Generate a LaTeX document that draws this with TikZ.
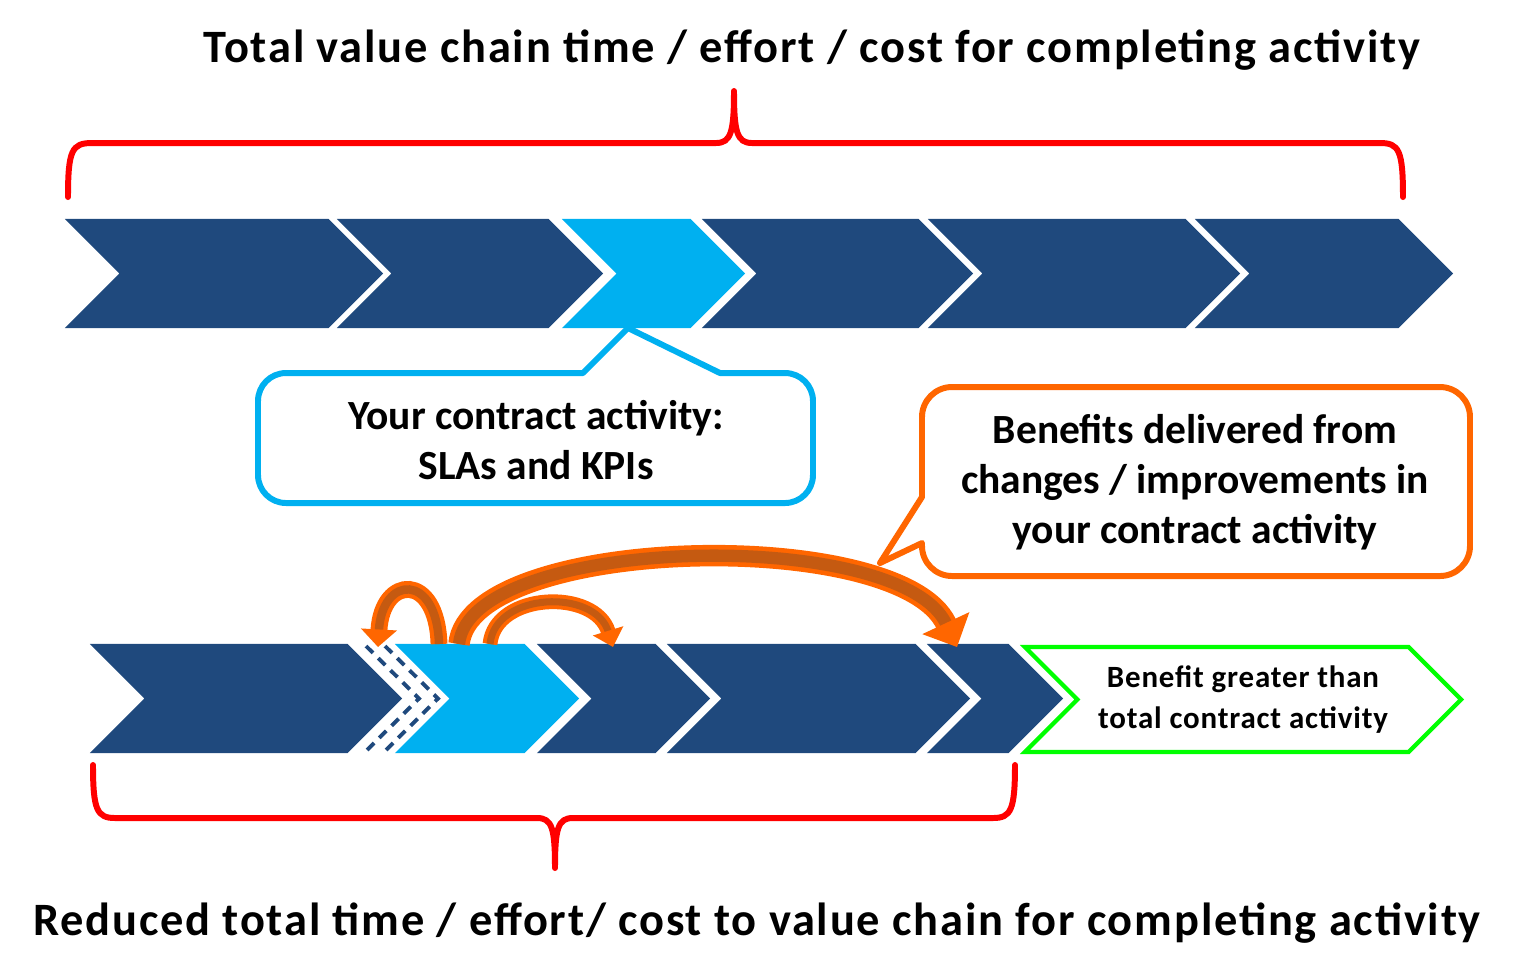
\documentclass[tikz,border=0pt]{standalone}
\usepackage{fontspec}
\setmainfont{Carlito}
\usetikzlibrary{shapes.symbols, arrows.meta}
\definecolor{chainnavy}{RGB}{31, 73, 125}
\definecolor{chainblue}{RGB}{0, 176, 240}
\definecolor{gainorange}{RGB}{255, 102, 0}
\definecolor{gaindark}{RGB}{197, 90, 17}
\definecolor{gaingreen}{RGB}{0, 255, 0}
\tikzset{
  stage/.style={
    signal,
    signal to=east,
    signal from=west,
    signal pointer angle=90,
    fill=chainnavy,
    minimum height=1.09cm,
    inner sep=0pt,
    outer sep=0pt
  },
  yourstage/.style={
    stage,
    fill=chainblue
  },
  gainstage/.style={
    stage,
    fill=white,
    draw=gaingreen,
    line width=1.2pt,
    minimum height=1.05cm,
    align=center,
    font=\fontsize{8.8}{11.4}\selectfont\bfseries\addfontfeatures{LetterSpace=2.7}
  },
  redbrace/.style={
    draw=red,
    line width=1.7pt,
    line cap=round,
    line join=round
  },
  bubble/.style={
    line width=1.7pt,
    fill=white,
    line join=round
  },
  bubbletext/.style={
    align=center,
    font=\fontsize{11.8}{14.2}\selectfont\bfseries
  },
  heading/.style={
    font=\fontsize{13.2}{15}\selectfont\bfseries\addfontfeatures{LetterSpace=3.9}
  },
  jump/.style={
    draw=gainorange,
    double=gaindark,
    line cap=butt
  },
  ghost/.style={
    draw=chainnavy,
    line width=1.1pt,
    dash pattern=on 2.8pt off 2.1pt
  }
}

\begin{document}
\begin{tikzpicture}[x=0.01cm, y=-0.01cm]
  \useasboundingbox (0,0) rectangle (1517,959);

  % headings
  \node[heading] (toptitle) at (812,50) {Total value chain time / effort / cost for completing activity};
  \node[heading] (bottitle) at (757,923) {Reduced total time / effort/ cost to value chain for completing activity};

  % upper value chain
  \node[stage, minimum width=3.18cm] (c1) at (224,273.5) {};
  \node[stage, minimum width=2.66cm] (c2) at (470,273.5) {};
  \node[yourstage, minimum width=1.83cm] (c3) at (653.5,273.5) {};
  \node[stage, minimum width=2.71cm] (c4) at (837.5,273.5) {};
  \node[stage, minimum width=3.12cm] (c5) at (1084,273.5) {};
  \node[stage, minimum width=2.58cm] (c6) at (1324,273.5) {};

  % lower value chain
  \node[stage, minimum width=3.12cm] (b1) at (246,698.5) {};
  \node[yourstage, minimum width=1.84cm] (b2) at (487,698.5) {};
  \node[stage, minimum width=1.73cm] (b3) at (623.5,698.5) {};
  \node[stage, minimum width=3.03cm] (b4) at (818.5,698.5) {};
  \node[stage, minimum width=1.36cm] (b5) at (995,698.5) {};
  \node[gainstage, minimum width=4.36cm] (gain) at (1243,699.5) {Benefit greater than\\total contract activity};

  % removed effort
  \draw[ghost] (366,646) -- (419,698.5) -- (366,751);
  \draw[ghost] (385,646) -- (438,698.5) -- (385,751);

  % braces
  \draw[redbrace] (68,197) .. controls (68,150) and (72,143) .. (92,143) -- (716,143)
    .. controls (731,143) and (734,132) .. (734,91)
    .. controls (734,132) and (737,143) .. (752,143) -- (1380,143)
    .. controls (1399,143) and (1403,150) .. (1403,197);
  \draw[redbrace] (93,765) .. controls (93,810) and (97,818) .. (115,818) -- (537,818)
    .. controls (552,818) and (555,828) .. (555,868)
    .. controls (555,828) and (558,818) .. (573,818) -- (993,818)
    .. controls (1011,818) and (1015,810) .. (1015,765);

  % callouts
  \draw[bubble, draw=chainblue] (628,328) -- (720,373) [rounded corners=0.28cm] -- (813,373)
    -- (813,503) -- (258,503) -- (258,373) [sharp corners] -- (583,373) -- cycle;
  \node[bubbletext] (slatext) at (536,440) {Your contract activity:\\SLAs and KPIs};

  \draw[bubble, draw=gainorange] (880,563) -- (922,543) [rounded corners=0.3cm] -- (922,576)
    -- (1470,576) -- (1470,387) -- (922,387) [sharp corners] -- (922,497) -- cycle;
  \node[bubbletext] (gaintext) at (1195,482) {Benefits delivered from\\changes / improvements in\\your contract activity};

  % effort moved along the chain
  \coordinate (s1) at (439,644);
  \coordinate (e1) at (378,647);
  \coordinate (s2) at (459,644);
  \coordinate (e2) at (957,647);
  \coordinate (s3) at (490,644);
  \coordinate (e3) at (613,647);
  \draw[jump, line width=1.2pt, double distance=2.4pt, -{Triangle[width=10pt, length=5pt]}]
    (s1) .. controls (437,572) and (382,575) .. (e1);
  \draw[jump, line width=1.3pt, double distance=3.5pt, -{Triangle[width=14.5pt, length=7.5pt]}]
    (s2) .. controls (470,535) and (900,525) .. (e2);
  \draw[jump, line width=1.1pt, double distance=2pt, -{Triangle[width=8.8pt, length=4.8pt]}]
    (s3) .. controls (495,592) and (595,588) .. (e3);
\end{tikzpicture}
\end{document}
